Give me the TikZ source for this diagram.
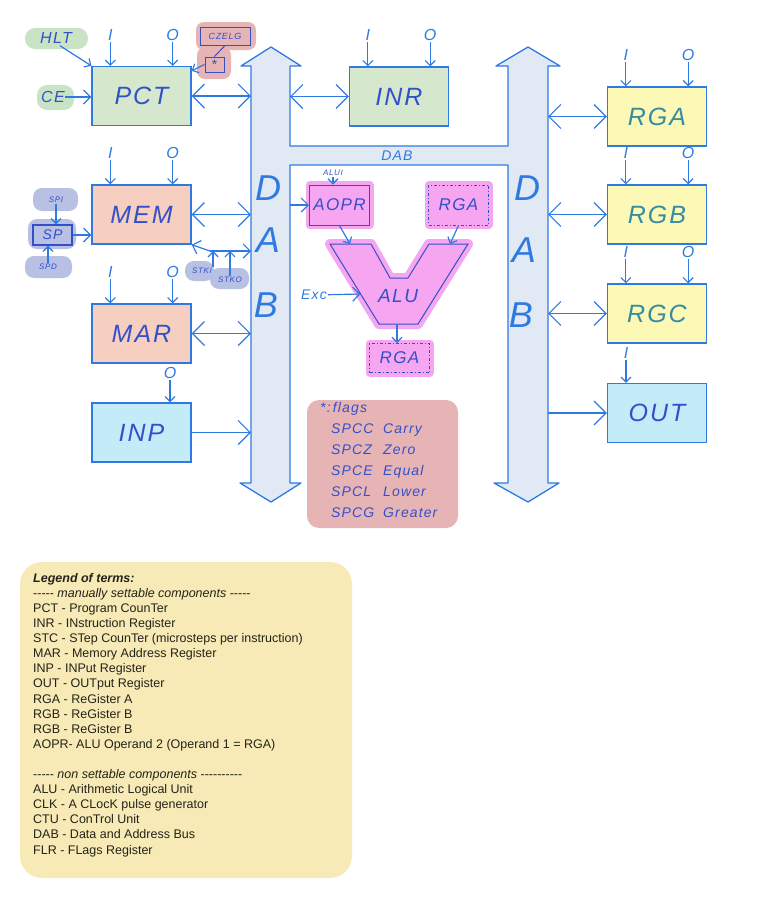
\documentclass[tikz,border=0pt]{standalone}
\usepackage{fontspec}
\usepackage{xcolor}
\usetikzlibrary{arrows.meta,positioning,calc}

\setmainfont{Liberation Sans}
\newfontfamily\hand[LetterSpace=8]{Liberation Sans}

\definecolor{lineblue}{RGB}{47,122,226}
\definecolor{inkblue}{RGB}{52,80,200}
\definecolor{inkteal}{RGB}{55,140,160}
\definecolor{busfill}{RGB}{224,233,244}
\definecolor{pctgreen}{RGB}{213,232,206}
\definecolor{memsalmon}{RGB}{246,207,192}
\definecolor{inpcyan}{RGB}{196,236,248}
\definecolor{rgyellow}{RGB}{252,248,182}
\definecolor{alupink}{RGB}{246,166,240}
\definecolor{flagpink}{RGB}{231,180,181}
\definecolor{ctlgreen}{RGB}{200,228,196}
\definecolor{ctllav}{RGB}{184,192,228}
\definecolor{legendyellow}{RGB}{248,234,182}
\definecolor{legendink}{RGB}{35,35,25}

\newcommand{\hy}{-\kern0pt}

\tikzset{
  bigtip/.tip={Straight Barb[length=12pt,width=24pt]},
  midtip/.tip={Straight Barb[length=7pt,width=14pt]},
  smalltip/.tip={Straight Barb[length=5pt,width=10pt]},
}

\begin{document}
\begin{tikzpicture}[x=1pt,y=-1pt,
    unit/.style={draw=lineblue, line width=1.3pt, minimum width=99pt, minimum height=59pt, inner sep=0pt,
      text=inkblue, font=\hand\itshape\fontsize{25}{25}\selectfont},
    io/.style={text=lineblue, inner sep=1pt, font=\hand\itshape\fontsize{16}{16}\selectfont},
    tag/.style={text=inkblue, inner sep=1pt, font=\hand\itshape\fontsize{8}{8}\selectfont},
    ctl/.style={fill=#1, rounded corners=9pt, inner sep=0pt, text=inkblue},
    link/.style={draw=lineblue, line width=1.2pt},
    opbox/.style={draw=inkblue, line width=1pt, minimum width=60pt, minimum height=40pt, inner sep=0pt,
      fill=alupink, preaction={draw=alupink, line width=8pt, line join=round, solid},
      text=inkblue, font=\hand\itshape\fontsize{17}{17}\selectfont},
    regbox/.style={opbox, dashdotted},
    busletter/.style={text=lineblue, font=\hand\itshape\fontsize{36}{36}\selectfont},
  ]
\useasboundingbox (0,0) rectangle (756,900);

% marker blobs behind the control signals
\fill[ctlgreen, rounded corners=10pt] (25,28) rectangle (88,49);
\fill[ctlgreen, rounded corners=10pt] (37,85) rectangle (74,110);
\fill[flagpink, rounded corners=8pt] (196,22) rectangle (256,50);
\fill[flagpink, rounded corners=8pt] (197,47) rectangle (231,79);
\fill[ctllav, rounded corners=9pt] (33,188) rectangle (78,211);
\fill[ctllav, rounded corners=9pt] (28,219) rectangle (76,249);
\fill[ctllav, rounded corners=9pt] (25,256) rectangle (72,278);
\fill[ctllav, rounded corners=9pt] (185,261) rectangle (214,281);
\fill[ctllav, rounded corners=9pt] (210,268) rectangle (249,289);

% data and address bus
\coordinate (lbl) at (251,0);
\coordinate (lbr) at (290,0);
\coordinate (rbl) at (508,0);
\coordinate (rbr) at (548,0);
\filldraw[fill=busfill, draw=lineblue, line width=1.3pt, line join=round]
  (271,47) -- (301,66) -- (290,66) -- (290,146) -- (508,146) -- (508,66) -- (496,66)
  -- (528,47) -- (560,66) -- (548,66) -- (548,483) -- (559,483) -- (528,502) -- (494,483)
  -- (508,483) -- (508,165) -- (290,165) -- (290,483) -- (301,483) -- (271,502)
  -- (240,483) -- (251,483) -- (251,66) -- (241,66) -- cycle;
\node[busletter] (ld) at (268,188) {D};
\node[busletter] (la) at (268,240) {A};
\node[busletter] (lb) at (266,305) {B};
\node[busletter] (rd) at (527,188) {D};
\node[busletter] (ra) at (524,250) {A};
\node[busletter] (rb) at (521,315) {B};
\node[text=lineblue, font=\hand\itshape\fontsize{14}{14}\selectfont] (dab) at (397,156) {DAB};

% registers
\node[unit, fill=pctgreen] (pct) at (141.5,96) {PCT};
\node[unit, fill=pctgreen] (inr) at (399,96.5) {INR};
\node[unit, fill=memsalmon] (mem) at (141.5,214.5) {MEM};
\node[unit, fill=memsalmon] (mar) at (141.5,333.5) {MAR};
\node[unit, fill=inpcyan] (inp) at (141.5,432.5) {INP};
\node[unit, fill=rgyellow, text=inkteal] (rga) at (657,116.5) {RGA};
\node[unit, fill=rgyellow, text=inkteal] (rgb) at (657,214.5) {RGB};
\node[unit, fill=rgyellow, text=inkteal] (rgc) at (657,313.5) {RGC};
\node[unit, fill=inpcyan] (out) at (657,413) {OUT};

\foreach \u in {pct,inr,mem,mar,rga,rgb,rgc}{
  \node[io] (\u-i) at ($(\u.north west)+(19,-31)$) {I};
  \node[io] (\u-o) at ($(\u.north east)+(-19,-31)$) {O};
  \draw[link,-smalltip] (\u-i) -- (\u-i |- \u.north);
  \draw[link,-smalltip] (\u-o) -- (\u-o |- \u.north);
}
\node[io] (mar-out) at (170,373) {O};
\draw[link,-smalltip] (mar-out) -- (mar-out |- inp.north);
\node[io] (rgc-out) at (626,353) {I};
\draw[link,-smalltip] (rgc-out) -- (rgc-out |- out.north);

% bus connections
\draw[link,bigtip-bigtip] (pct) -- (pct -| lbl);
\draw[link,bigtip-bigtip] (inr) -- (inr -| lbr);
\draw[link,bigtip-bigtip] (mem) -- (mem -| lbl);
\draw[link,bigtip-bigtip] (mar) -- (mar -| lbl);
\draw[link,-bigtip] (inp) -- (inp -| lbl);
\draw[link,bigtip-bigtip] (rga) -- (rga -| rbr);
\draw[link,bigtip-bigtip] (rgb) -- (rgb -| rbr);
\draw[link,bigtip-bigtip] (rgc) -- (rgc -| rbr);
\draw[link,-bigtip] (out -| rbr) -- (out);

% control signals of PCT
\node[ctl=none, font=\hand\itshape\fontsize{16}{16}\selectfont] (hlt) at (56,38) {HLT};
\node[ctl=none, font=\hand\itshape\fontsize{16}{16}\selectfont] (ce) at (53,97) {CE};
\draw[link,-smalltip] ($(hlt.south east)+(-12,2)$) -- (pct.north west);
\draw[link,-midtip] (ce) -- (ce -| pct.west);
\node[draw=inkblue, line width=1pt, minimum width=50pt, minimum height=18pt, inner sep=0pt,
  text=inkblue, font=\hand\itshape\fontsize{9}{9}\selectfont] (czelg) at (225,36) {CZELG};
\node[draw=inkblue, line width=1pt, minimum width=19pt, minimum height=15pt, inner sep=0pt,
  text=inkblue, font=\fontsize{14}{14}\selectfont] (flagref) at (214.5,64.5) {*};
\draw[inkblue, line width=1pt] (czelg.south) -- (flagref.north);
\draw[link,-smalltip] (flagref.west) -- ([yshift=-5pt]pct.north east);

% stack pointer
\node[draw=inkblue, line width=1.2pt, minimum width=39pt, minimum height=20pt, inner sep=0pt,
  text=inkblue, font=\hand\itshape\fontsize{14}{14}\selectfont] (sp) at (52.5,235) {SP};
\node[tag] (spi) at (56,200) {SPI};
\node[tag] (spd) at (48,267) {SPD};
\draw[link,-smalltip] (spi) -- (sp.north -| spi);
\draw[link,-smalltip] (spd) -- (sp.south -| spd);
\draw[link,-midtip] (sp) -- (sp -| mem.west);
\coordinate (stk) at (210,251);
\node[tag] (stki) at (202,271) {STKI};
\node[tag] (stko) at (230,280) {STKO};
\draw[link,-midtip] (stk) -- (mem.south east);
\draw[link,-midtip] (stk) -- (stk -| lbl);
\draw[link,-smalltip] (stki.north east) -- (stki.north east |- stk);
\draw[link,-smalltip] (stko) -- (stko |- stk);

% ALU
\filldraw[fill=alupink, draw=inkblue, line width=1pt, preaction={draw=alupink, line width=10pt, line join=round}]
  (330,244) -- (371,244) -- (390,278) -- (408,278) -- (429,244) -- (468,244) -- (418,324) -- (379,324) -- cycle;
\coordinate (alu-a) at (350,244);
\coordinate (alu-b) at (450,244);
\coordinate (alu-x) at (360.5,294);
\coordinate (alu-q) at (397,324);
\node[text=inkblue, font=\hand\itshape\fontsize{19}{19}\selectfont] (alu) at (398,296) {ALU};
\node[opbox] (aopr) at (339.5,205) {AOPR};
\node[regbox] (rgatop) at (458.5,205) {RGA};
\node[regbox, minimum height=29pt] (rgares) at (399.5,358) {RGA};
\node[tag] (alui) at (333,173) {ALUI};
\draw[link,-smalltip] (alui) -- (alui |- aopr.north);
\draw[link,-midtip] (aopr -| lbr) -- (aopr);
\draw[link,-smalltip] (aopr.south) -- (alu-a);
\draw[link,-smalltip] (rgatop.south) -- (alu-b);
\draw[link,-smalltip] (alu-q) -- (rgares.north -| alu-q);
\node[io, font=\hand\itshape\fontsize{14}{14}\selectfont] (exc) at (314,295) {Exc};
\draw[link,-midtip] (exc) -- (alu-x);

% flags
\node[fill=flagpink, rounded corners=12pt, minimum width=151pt, minimum height=128pt] (flagbox) at (382.5,464) {};
\node[anchor=north west, inner sep=0pt, text=inkblue, font=\hand\itshape\fontsize{14}{21}\selectfont] (flags) at (320,398) {%
  \begin{tabular}{@{}l@{\hspace{9pt}}l@{}}
  \multicolumn{2}{@{}l@{}}{*:\,flags}\\
  \hspace{11pt}SPCC & Carry\\
  \hspace{11pt}SPCZ & Zero\\
  \hspace{11pt}SPCE & Equal\\
  \hspace{11pt}SPCL & Lower\\
  \hspace{11pt}SPCG & Greater
  \end{tabular}};

% legend
\fill[legendyellow, rounded corners=22pt] (20,562) rectangle (352,878);
\node[anchor=north west, inner sep=0pt, align=left, text=legendink, font=\fontsize{12.5}{15.1}\selectfont] (terms) at (33,573) {%
  {\bfseries\itshape Legend of terms:}\\
  \hy\hy\hy\hy\hy{} \textit{manually settable components} \hy\hy\hy\hy\hy\\
  PCT - Program CounTer\\
  INR - INstruction Register\\
  STC - STep CounTer (microsteps per instruction)\\
  MAR - Memory Address Register\\
  INP - INPut Register\\
  OUT - OUTput Register\\
  RGA - ReGister A\\
  RGB - ReGister B\\
  RGB - ReGister B\\
  AOPR- ALU Operand 2 (Operand 1 = RGA)\\[15.1pt]
  \hy\hy\hy\hy\hy{} \textit{non settable components} \hy\hy\hy\hy\hy\hy\hy\hy\hy\hy\\
  ALU - Arithmetic Logical Unit\\
  CLK - A CLocK pulse generator\\
  CTU - ConTrol Unit\\
  DAB - Data and Address Bus\\
  FLR - FLags Register};
\end{tikzpicture}
\end{document}
